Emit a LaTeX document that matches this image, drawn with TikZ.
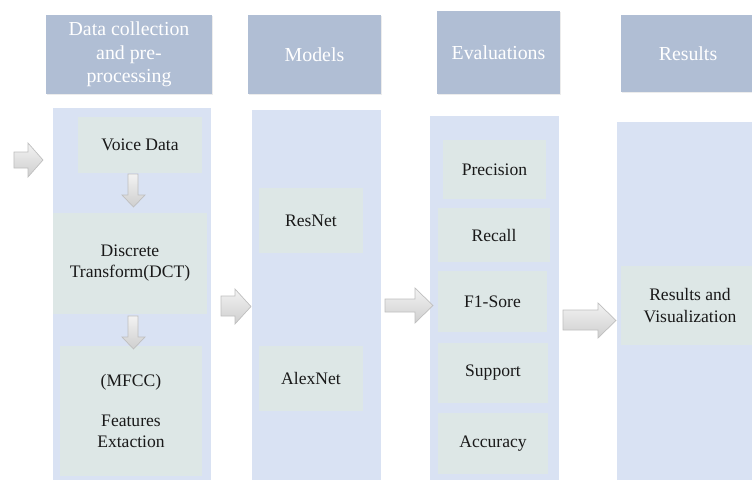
\documentclass[tikz,border=0pt]{standalone}
\usepackage{fontspec}
\setmainfont{Liberation Serif}
\newfontfamily\diagfont{Liberation Serif}
\usetikzlibrary{shadows}
\definecolor{headblue}{RGB}{176,190,212}
\definecolor{laneblue}{RGB}{217,226,243}
\definecolor{cellgreen}{RGB}{221,231,230}

\begin{document}
\begin{tikzpicture}[x=0.02cm, y=-0.02cm]
	\tikzstyle{header} = [rectangle, fill=headblue, text=white, align=center, inner sep=0pt, font=\diagfont\fontsize{11.3}{13.5}\selectfont, drop shadow={opacity=0.15, shadow xshift=0.6pt, shadow yshift=-0.6pt}]
	\tikzstyle{lane} = [rectangle, fill=laneblue, inner sep=0pt]
	\tikzstyle{cell} = [rectangle, fill=cellgreen, align=center, inner sep=0pt, text=black!90, font=\diagfont\fontsize{10}{12}\selectfont]
	\tikzstyle{blockarrow} = [draw=gray!50, line width=0.4pt, top color=gray!10, bottom color=gray!38]
	\useasboundingbox (0,0) rectangle (752,480);
	
	% column headers
	\node[header, minimum width=3.32cm, minimum height=1.58cm] (H1) at (129,54.5) {Data collection\\and pre-\\processing};
	\node[header, minimum width=2.66cm, minimum height=1.58cm] (H2) at (314.5,54.5) {Models};
	\node[header, minimum width=2.46cm, minimum height=1.66cm] (H3) at (498.5,52.5) {Evaluations};
	\node[header, minimum width=2.68cm, minimum height=1.54cm] (H4) at (688,53.5) {Results};
	
	% lanes
	\node[lane, minimum width=3.16cm, minimum height=7.5cm] (P1) at (132,295) {};
	\node[lane, minimum width=2.58cm, minimum height=7.45cm] (P2) at (316.5,296) {};
	\node[lane, minimum width=2.58cm, minimum height=7.33cm] (P3) at (494.5,299) {};
	\node[lane, minimum width=2.86cm, minimum height=7.2cm] (P4) at (688.5,302) {};
	
	% data collection
	\node[cell, minimum width=2.48cm, minimum height=1.12cm] (voice) at (140,145) {Voice Data};
	\node[cell, minimum width=3.08cm, minimum height=2.02cm] (dct) at (130,263.5) {Discrete\\Transform(DCT)};
	\node[cell, minimum width=2.84cm, minimum height=2.6cm] (mfcc) at (131,411) {(MFCC)\\[11pt]Features\\Extaction};
	
	% models
	\node[cell, minimum width=2.08cm, minimum height=1.3cm] (resnet) at (311,220.5) {ResNet};
	\node[cell, minimum width=2.08cm, minimum height=1.3cm] (alexnet) at (311,378.5) {AlexNet};
	
	% evaluations
	\node[cell, minimum width=2.06cm, minimum height=1.18cm] (prec) at (494.5,169.5) {Precision};
	\node[cell, minimum width=2.24cm, minimum height=1.08cm] (recall) at (494,235) {Recall};
	\node[cell, minimum width=2.18cm, minimum height=1.22cm] (f1) at (492.5,301.5) {F1-Sore};
	\node[cell, minimum width=2.2cm, minimum height=1.2cm] (support) at (493,373) {Support};
	\node[cell, minimum width=2.2cm, minimum height=1.22cm] (acc) at (493,443.5) {Accuracy};
	
	% results
	\node[cell, minimum width=2.78cm, minimum height=1.58cm] (results) at (690,305.5) {Results and\\Visualization};
	
	% block arrows
	\draw[blockarrow] (14,152) -- (28,152) -- (28,143) -- (43,160) -- (28,177) -- (28,168) -- (14,168) -- cycle;
	\draw[blockarrow] (128,174) -- (138,174) -- (138,195) -- (145,195) -- (133.5,207) -- (122,195) -- (128,195) -- cycle;
	\draw[blockarrow] (128,316) -- (138,316) -- (138,337) -- (145,337) -- (133.5,349) -- (122,337) -- (128,337) -- cycle;
	\draw[blockarrow] (221,296) -- (235,296) -- (235,289) -- (251,306.5) -- (235,324) -- (235,316) -- (221,316) -- cycle;
	\draw[blockarrow] (385,299) -- (415,299) -- (415,288) -- (433,305.5) -- (415,323) -- (415,312) -- (385,312) -- cycle;
	\draw[blockarrow] (563,310) -- (598,310) -- (598,303) -- (616,320.5) -- (598,338) -- (598,330) -- (563,330) -- cycle;
	
\end{tikzpicture}
\end{document}
